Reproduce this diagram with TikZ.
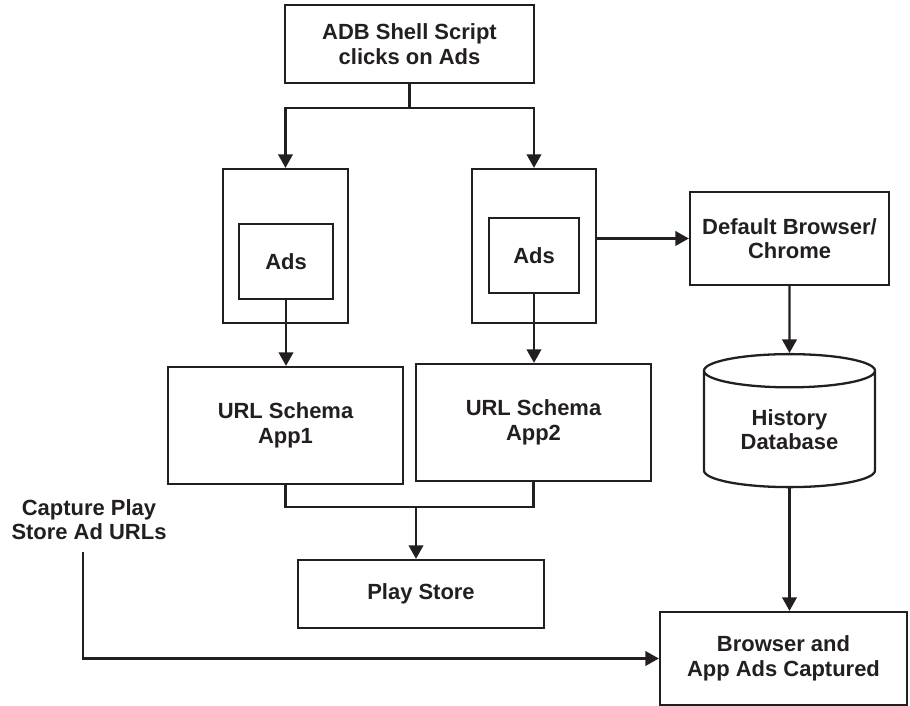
\documentclass[tikz,border=0pt]{standalone}
\usepackage{fontspec}
\setmainfont{Liberation Sans}
\usetikzlibrary{arrows.meta,shapes.geometric}
\definecolor{InkClr}{RGB}{35,31,32}

\begin{document}
\begin{tikzpicture}[font=\bfseries\fontsize{12.5}{13.9}\selectfont,
  box/.style={draw=InkClr,text=InkClr,line width=1.3pt,align=center,inner sep=0pt},
  link/.style={draw=InkClr,line width=1.3pt},
  arr/.style={link,-{Triangle[length=0.27cm,width=0.29cm]}}]
\useasboundingbox (0,0) rectangle (18.2,-14.12);

\node[box,minimum width=4.98cm,minimum height=1.56cm] (adb) at (8.19,-0.88) {ADB Shell Script\\clicks on Ads};

\node[box,minimum width=2.5cm,minimum height=3.08cm] (outer1) at (5.71,-4.92) {};
\node[box,minimum width=1.88cm,minimum height=1.5cm] (ads1) at (5.72,-5.23) {Ads};
\node[box,minimum width=2.48cm,minimum height=3.08cm] (outer2) at (10.68,-4.92) {};
\node[box,minimum width=1.8cm,minimum height=1.5cm] (ads2) at (10.68,-5.11) {Ads};

\node[box,minimum width=3.98cm,minimum height=1.86cm] (browser) at (15.79,-4.77) {Default Browser/\\Chrome};

\node[box,minimum width=4.7cm,minimum height=2.34cm] (app1) at (5.71,-8.51) {URL Schema\\App1};
\node[box,minimum width=4.7cm,minimum height=2.34cm] (app2) at (10.67,-8.45) {URL Schema\\App2};
\node[box,cylinder,shape border rotate=90,aspect=0.34,minimum width=3.42cm,minimum height=2.66cm] (db) at (15.79,-8.59) {History\\Database};

\node[box,minimum width=4.92cm,minimum height=1.36cm] (play) at (8.42,-11.88) {Play Store};
\node[box,minimum width=4.94cm,minimum height=1.86cm] (result) at (15.67,-13.17) {Browser and\\App Ads Captured};

\node[text=InkClr,align=center,inner sep=0.24cm] (capture) at (1.78,-10.39) {Capture Play\\Store Ad URLs};

\coordinate (split) at (8.19,-2.16);
\coordinate (merge) at (8.32,-10.14);

\draw[link] (adb) -- (split);
\draw[arr] (split) -| (outer1);
\draw[arr] (split) -| (outer2);

\draw[arr] (ads1.south) -- (ads1.south |- app1.north);
\draw[arr] (ads2.south) -- (ads2.south |- app2.north);
\draw[arr] (browser.west -| outer2.east) -- (browser.west);
\draw[arr] (browser) -- (db);
\draw[arr] (db.south) -- (db.south |- result.north);

\draw[link] (app1) |- (merge) -| (app2);
\draw[arr] (merge) -- (merge |- play.north);

\draw[arr] ([xshift=-0.12cm]capture.south) |- (result);

\end{tikzpicture}
\end{document}
